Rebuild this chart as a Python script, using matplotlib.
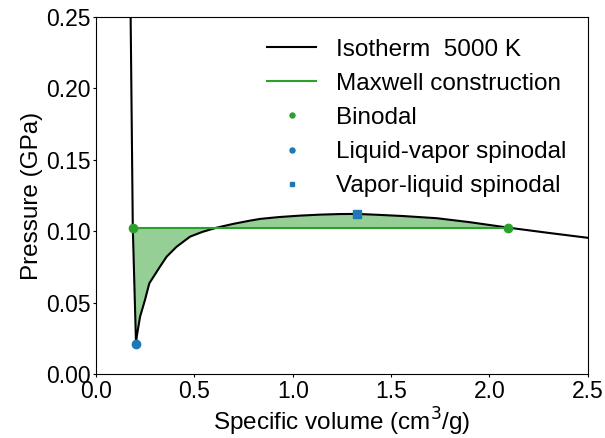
import matplotlib.pyplot as plt
import numpy as np

plt.rcParams['font.family'] = ['Liberation Sans', 'DejaVu Sans']

# isotherm at 5000 K, specific volume (cm3/g) vs pressure (GPa)
vol = [0.176, 0.187, 0.2034, 0.207, 0.224, 0.249, 0.271, 0.325, 0.359, 0.410,
       0.478, 0.540, 0.614, 0.700, 0.783, 0.834, 0.930, 1.037, 1.140, 1.240,
       1.325, 1.444, 1.562, 1.732, 1.901, 2.096, 2.291, 2.500]
pres = [0.250, 0.1025, 0.0212, 0.0263, 0.0403, 0.052, 0.0636, 0.0752, 0.0822, 0.0892,
        0.0962, 0.0995, 0.1025, 0.1052, 0.1074, 0.1086, 0.1099, 0.1109, 0.1116, 0.1120,
        0.1121, 0.1114, 0.1106, 0.1091, 0.1063, 0.1025, 0.0990, 0.0954]

# Maxwell construction / binodal points
p_sat = 0.1025
v_liq, v_vap = 0.187, 2.096
# spinodals
lv_spin = (0.2034, 0.0212)
vl_spin = (1.325, 0.1121)

vol = np.array(vol)
pres = np.array(pres)

fig, ax = plt.subplots(figsize=(6.05, 4.38), dpi=100)
ax.plot(vol, pres, color='black', lw=1.5, label='Isotherm  5000 K')
ax.plot([v_liq, v_vap], [p_sat, p_sat], color='tab:green', lw=1.5, label='Maxwell construction')

mask = (vol >= v_liq) & (vol <= v_vap)
ax.fill_between(vol[mask], pres[mask], p_sat, color='tab:green', alpha=0.5, lw=0)

ax.plot([v_liq, v_vap], [p_sat, p_sat], 'o', color='tab:green', ms=6, ls='none', label='Binodal')
ax.plot(*lv_spin, 'o', color='tab:blue', ms=6, ls='none', label='Liquid-vapor spinodal')
ax.plot(*vl_spin, 's', color='tab:blue', ms=6, ls='none', label='Vapor-liquid spinodal')

ax.set_xlim(0, 2.5)
ax.set_ylim(0, 0.25)
ax.set_xticks(np.arange(0, 2.51, 0.5))
ax.set_yticks(np.arange(0, 0.251, 0.05))
ax.xaxis.set_major_formatter(plt.FormatStrFormatter('%.1f'))
ax.yaxis.set_major_formatter(plt.FormatStrFormatter('%.2f'))
ax.tick_params(labelsize=16.5, length=2.5, pad=1.5)
ax.set_xlabel('Specific volume (cm$^3$/g)', fontsize=17.5, labelpad=2)
ax.set_ylabel('Pressure (GPa)', fontsize=17.5, labelpad=2)
ax.legend(frameon=False, fontsize=17.5, numpoints=1, markerscale=0.6,
          loc='upper right', labelspacing=0.5)

fig.subplots_adjust(left=0.1587, right=0.9715, top=0.962, bottom=0.1455)
fig.savefig('out.png')
